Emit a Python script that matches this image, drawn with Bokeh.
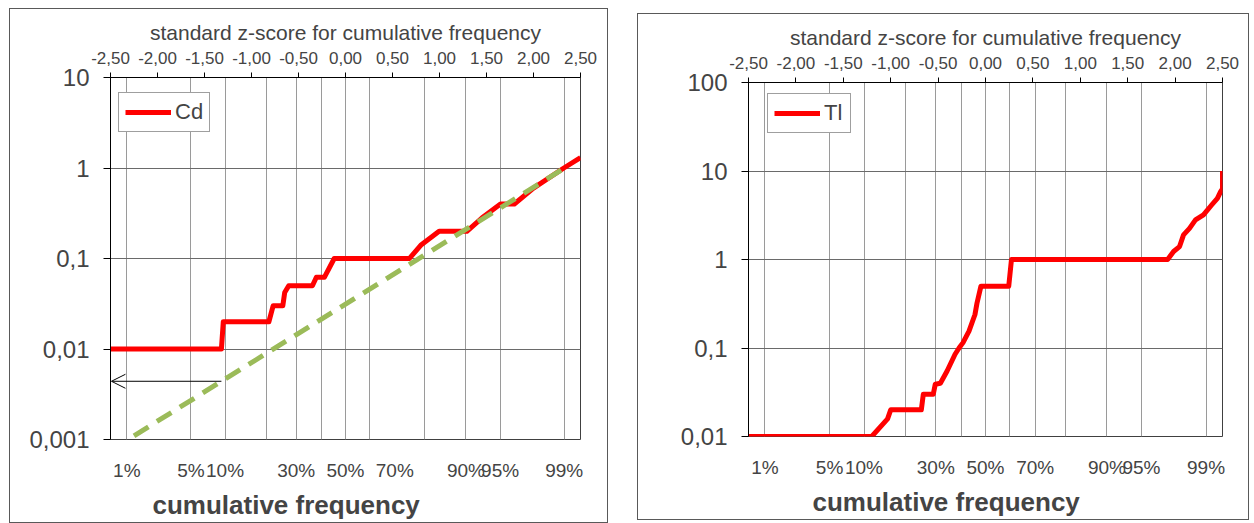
import math
from bokeh.plotting import figure
from bokeh.models import (Range1d, FixedTicker, LinearAxis, CustomJSTickFormatter,
                          Arrow, OpenHead, Legend, LegendItem, Title)
from bokeh.layouts import row
from bokeh.embed import file_html
from bokeh.resources import INLINE

# ---------------- data ----------------
top_ticks = [-2.5, -2.0, -1.5, -1.0, -0.5, 0.0, 0.5, 1.0, 1.5, 2.0, 2.5]
grid_pct_cd = [1, 5, 10, 20, 30, 40, 50, 60, 80, 90, 95, 99]
grid_pct_tl = [1, 5, 10, 20, 30, 40, 50, 60, 70, 80, 90, 95, 99]
label_pct = [1, 5, 10, 30, 50, 70, 90, 95, 99]
label_txt = ["1%", "5%", "10%", "30%", "50%", "70%", "90%", "95%", "99%"]

cd_yticks = [0.001, 0.01, 0.1, 1, 10]
tl_yticks = [0.01, 0.1, 1, 10, 100]

# Cd: z-score of cumulative frequency vs concentration
cd_z = [-2.5, -1.32, -1.30, -0.815, -0.77, -0.667, -0.647, -0.604, -0.352, -0.31,
         -0.225, -0.12, 0.68, 0.80, 0.996, 1.291, 1.45, 1.649, 1.796, 2.0, 2.323, 2.5]
cd_value = [0.01, 0.01, 0.02, 0.02, 0.03, 0.03, 0.042, 0.05, 0.05, 0.062,
            0.062, 0.1, 0.1, 0.14, 0.2, 0.2, 0.28, 0.4, 0.4, 0.6, 1.0, 1.3]
# Cd: lognormal fit (dashed)
fit_z = [-2.25, 2.33]
fit_value = [0.0011, 1.0]
# Cd: arrow (detection limit)
arrow_from_z, arrow_to_z, arrow_value = -1.32, -2.49, 0.0044

# Tl
tl_z = [-2.5, -1.20, -1.033, -1.0, -0.677, -0.656, -0.551, -0.53, -0.476, -0.405,
         -0.321, -0.279, -0.237, -0.174, -0.111, -0.09, -0.048, 0.245, 0.274, 1.921,
         1.984, 2.047, 2.089, 2.152, 2.215, 2.299, 2.383, 2.446, 2.479, 2.5, 2.5]
tl_value = [0.01, 0.01, 0.0158, 0.02, 0.02, 0.03, 0.03, 0.039, 0.04, 0.055,
            0.085, 0.1, 0.115, 0.155, 0.239, 0.32, 0.5, 0.5, 1.0, 1.0,
            1.23, 1.4, 1.9, 2.25, 2.8, 3.2, 4.1, 4.9, 5.8, 6.3, 10]


def norm_ppf(p):
    lo, hi = -10.0, 10.0
    for _ in range(200):
        mid = (lo + hi) / 2
        if 0.5 * (1 + math.erf(mid / math.sqrt(2))) < p:
            lo = mid
        else:
            hi = mid
    return (lo + hi) / 2


FONT = "Liberation Sans"
RED = "#FF0000"
GREEN = "#9BBB59"


def build(name, zs, vals, yr, yticks, grid_pcts, width, height, mb, margin, leg_loc, title_off):
    p = figure(width=width, height=height, x_range=Range1d(-2.5, 2.5),
               y_range=Range1d(*yr), y_axis_type="log", x_axis_location="above",
               output_backend="svg", toolbar_location=None,
               min_border_left=mb[0], min_border_right=mb[1],
               min_border_top=mb[2], min_border_bottom=mb[3],
               background_fill_color="white", border_fill_color="white",
               outline_line_color="#404040", outline_line_width=1)
    p.margin = margin
    p.styles = {"border": "1px solid #595959"}

    # top axis (z-score)
    ax = p.xaxis[0]
    ax.ticker = FixedTicker(ticks=top_ticks)
    ax.formatter = CustomJSTickFormatter(code="return tick.toFixed(2).replace('.', ',');")
    ax.axis_label = "standard z-score for cumulative frequency"
    ax.axis_label_text_font = FONT
    ax.axis_label_text_font_style = "normal"
    ax.axis_label_text_font_size = "21px"
    ax.axis_label_standoff = 5
    ax.major_label_text_font = FONT
    ax.major_label_text_font_size = "17px"
    ax.major_label_standoff = 9
    ax.major_tick_out = 5
    ax.major_tick_in = 0
    ax.minor_tick_out = 0
    ax.minor_tick_in = 0
    ax.axis_line_color = "black"
    ax.major_tick_line_color = "black"

    # left axis (log)
    ay = p.yaxis[0]
    ay.ticker = FixedTicker(ticks=yticks)
    ay.formatter = CustomJSTickFormatter(code="return tick.toString().replace('.', ',');")
    ay.major_label_text_font = FONT
    ay.major_label_text_font_size = "24px"
    ay.major_tick_out = 7
    ay.major_tick_in = 0
    ay.minor_tick_out = 0
    ay.minor_tick_in = 0
    ay.major_label_standoff = 14
    ay.axis_line_color = "black"

    # bottom axis (cumulative frequency labels)
    lab_z = [norm_ppf(q / 100) for q in label_pct]
    bx = LinearAxis(ticker=FixedTicker(ticks=lab_z),
                    formatter=CustomJSTickFormatter(
                        args=dict(zs=lab_z, labels=label_txt),
                        code="for (let i = 0; i < zs.length; i++) { if (Math.abs(zs[i] - tick) < 1e-6) return labels[i]; } return '';"))
    bx.axis_line_color = None
    bx.major_tick_line_color = None
    bx.minor_tick_line_color = None
    bx.major_label_text_font = FONT
    bx.major_label_text_font_size = "19px"
    bx.major_label_standoff = 14
    p.add_layout(bx, "below")
    p.add_layout(Title(text="cumulative frequency", align="left", offset=title_off,
                       text_font=FONT, text_font_style="bold", text_font_size="26px",
                       standoff=8), "below")

    # grids
    p.xgrid.ticker = FixedTicker(ticks=[norm_ppf(q / 100) for q in grid_pcts])
    p.xgrid.grid_line_color = "#9a9a9a"
    p.xgrid.grid_line_width = 1
    p.ygrid.ticker = FixedTicker(ticks=yticks)
    p.ygrid.grid_line_color = "#6a6a6a"
    p.ygrid.grid_line_width = 1

    r = p.line(zs, vals, line_color=RED, line_width=5, line_join="round")

    leg = Legend(items=[LegendItem(label=name, renderers=[r])], location=leg_loc,
                 label_text_font=FONT, label_text_font_size="22px",
                 glyph_width=46, glyph_height=18, label_standoff=4,
                 padding=6, spacing=0, margin=0,
                 border_line_color="#404040", border_line_width=1,
                 background_fill_color="white", background_fill_alpha=1)
    p.add_layout(leg)
    return p


p1 = build("Cd", cd_z, cd_value, (0.001, 10), cd_yticks, grid_pct_cd,
           599, 515, (100, 29, 68, 83), (8, 0, 0, 9), (8, 307), 42)
p1.line(fit_z, fit_value, line_color=GREEN, line_width=5, line_dash="17 10")
p1.add_layout(Arrow(end=OpenHead(size=14, line_width=1, line_color="black"),
                    x_start=arrow_from_z, y_start=arrow_value,
                    x_end=arrow_to_z, y_end=arrow_value,
                    line_color="black", line_width=1))

p2 = build("Tl", tl_z, tl_value, (0.01, 100), tl_yticks, grid_pct_tl,
           612, 507, (110, 28, 66, 85), (13, 0, 0, 29), (19, 303), 64)

layout = row(p1, p2)
open("out.html", "w").write(file_html(layout, INLINE))
